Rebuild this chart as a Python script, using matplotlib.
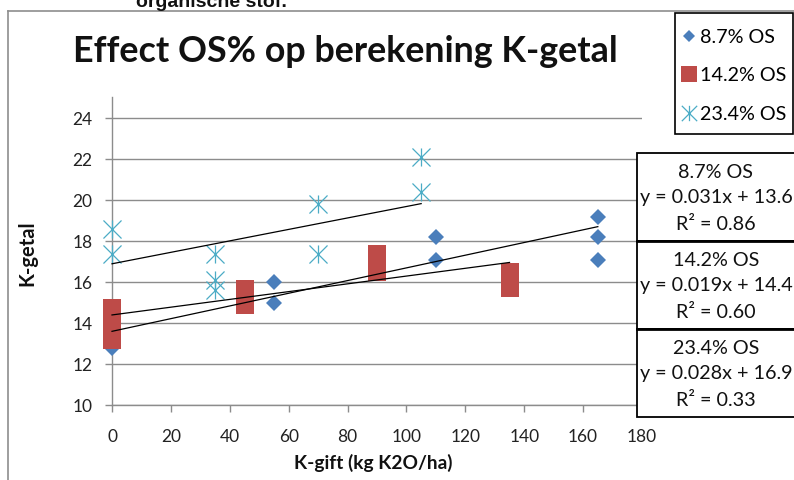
import matplotlib
matplotlib.use("Agg")
import matplotlib.pyplot as plt
import numpy as np
from matplotlib.path import Path
from matplotlib.patches import Rectangle
from matplotlib.lines import Line2D

# ---------------- data ----------------
series_names = ["8.7% OS", "14.2% OS", "23.4% OS"]

x_os87 = [0, 55, 55, 110, 110, 165, 165, 165]
y_os87 = [12.8, 16.0, 15.0, 18.2, 17.1, 19.2, 18.2, 17.1]

x_os142 = [0, 0, 0, 45, 45, 90, 90, 135, 135]
y_os142 = [14.76, 13.98, 13.2, 15.65, 14.87, 17.36, 16.48, 16.48, 15.70]

x_os234 = [0, 0, 35, 35, 35, 70, 70, 105, 105]
y_os234 = [18.6, 17.4, 17.4, 16.1, 15.6, 19.8, 17.4, 22.1, 20.4]

slopes = [0.031, 0.019, 0.028]
intercepts = [13.6, 14.4, 16.9]
r2_values = ["0.86", "0.60", "0.33"]

x_ticks = [0, 20, 40, 60, 80, 100, 120, 140, 160, 180]
y_ticks = [10, 12, 14, 16, 18, 20, 22, 24]

title = "Effect OS% op berekening K-getal"
x_label = "K-gift (kg K2O/ha)"
y_label = "K-getal"
top_text = "organische stof."

# ---------------- style ----------------
W, H = 794, 480
FONT = "Lato"
BLUE = "#4A7EBB"
RED = "#BE4B48"
CYAN = "#4BACC6"
GRID = "#8C8C8C"

fig = plt.figure(figsize=(W / 100, H / 100), dpi=100)

def fx(px):
    return px / W

def fy(py):
    return 1 - py / H

ax = fig.add_axes([fx(112), fy(405), fx(642) - fx(112), fy(97) - fy(405)])

# asterisk marker: vertical bar + X
ast = Path([(0, -1), (0, 1), (-1, -1), (1, 1), (-1, 1), (1, -1)],
           [Path.MOVETO, Path.LINETO, Path.MOVETO, Path.LINETO, Path.MOVETO, Path.LINETO])

xs = [x_os87, x_os142, x_os234]
ys = [y_os87, y_os142, y_os234]

h1, = ax.plot(x_os87, y_os87, linestyle="none", marker="D", ms=7.7, mfc=BLUE, mec=BLUE,
              mew=0, zorder=3, clip_on=False)
h2, = ax.plot(x_os142, y_os142, linestyle="none", marker="s", ms=12.8, mfc=RED, mec=RED,
              mew=0, zorder=4, clip_on=False)
h3, = ax.plot(x_os234, y_os234, linestyle="none", marker=ast, ms=13, mfc="none", mec=CYAN,
              mew=0.9, zorder=5, clip_on=False)

# trend lines over each series' x range
for xv, m, b in zip(xs, slopes, intercepts):
    xr = np.array([min(xv), max(xv)], dtype=float)
    ax.plot(xr, m * xr + b, color="black", lw=0.9, zorder=6, clip_on=False)

ax.set_xlim(0, 180)
ax.set_ylim(10, 25.05)
ax.set_xticks(x_ticks)
ax.set_yticks(y_ticks)
ax.yaxis.grid(True, color=GRID, lw=1.0)
ax.set_axisbelow(True)
for s in ["top", "right"]:
    ax.spines[s].set_visible(False)
for s in ["left", "bottom"]:
    ax.spines[s].set_color(GRID)
    ax.spines[s].set_linewidth(1.0)
ax.tick_params(axis="both", direction="out", length=5, width=1.0, color=GRID,
               labelsize=12.5, labelcolor="#222222")
ax.tick_params(axis="x", pad=12)
ax.tick_params(axis="y", pad=9)
for lab in ax.get_xticklabels() + ax.get_yticklabels():
    lab.set_family(FONT)

# labels and title
fig.text(fx(373), fy(463), x_label, ha="center", va="center", fontsize=13.8,
         fontweight="bold", family=FONT, color="#111111")
fig.text(fx(27), fy(253), y_label, ha="center", va="center", rotation=90,
         fontsize=14.5, fontweight="bold", family=FONT, color="#111111")
fig.text(fx(345), fy(52), title, ha="center", va="center", fontsize=25.8,
         fontweight="bold", family=FONT, color="#111111")
fig.text(fx(211), fy(7), top_text, ha="center", va="baseline", fontsize=14,
         fontweight="bold", family="Liberation Sans", color="#111111")

# outer chart border (extends past right/bottom edges)
fig.add_artist(Line2D([fx(8), 1.02], [fy(10.5), fy(10.5)], color="#8E8E8E", lw=1.2))
fig.add_artist(Line2D([fx(8), fx(8)], [-0.02, fy(10.5)], color="#8E8E8E", lw=1.2))

# legend box
fig.add_artist(Rectangle((fx(675), fy(134)), fx(793) - fx(675), fy(13) - fy(134),
                         transform=fig.transFigure, fill=True, facecolor="white",
                         edgecolor="black", lw=1.2, zorder=10))
leg = fig.legend([h1, h2, h3], series_names, loc="upper left",
                 bbox_to_anchor=(fx(681), fy(29)), frameon=False,
                 prop={"family": FONT, "size": 14.2}, handlelength=0.8,
                 handletextpad=0.15, labelspacing=1.08, borderpad=0,
                 borderaxespad=0, markerscale=0.85)
leg.set_zorder(11)

# equation boxes
box_tops = [153, 241, 329]
box_bots = [241, 329, 417]
for i in range(3):
    t, b = box_tops[i], box_bots[i]
    fig.add_artist(Rectangle((fx(637), fy(b)), fx(800) - fx(637), fy(t) - fy(b),
                             transform=fig.transFigure, facecolor="white",
                             edgecolor="black", lw=1.3, zorder=10))
    lines = [series_names[i],
             "y = %.3fx + %.1f" % (slopes[i], intercepts[i]),
             "R\u00b2 = " + r2_values[i]]
    for j, txt in enumerate(lines):
        fig.text(fx(716), fy(t + 19 + j * 26), txt, ha="center", va="center",
                 fontsize=14.2, family=FONT, color="#111111", zorder=11)
for yy in [241, 329]:
    fig.add_artist(Line2D([fx(637), 1.0], [fy(yy), fy(yy)], color="black", lw=2.0, zorder=12))

fig.savefig("out.png", dpi=100)
